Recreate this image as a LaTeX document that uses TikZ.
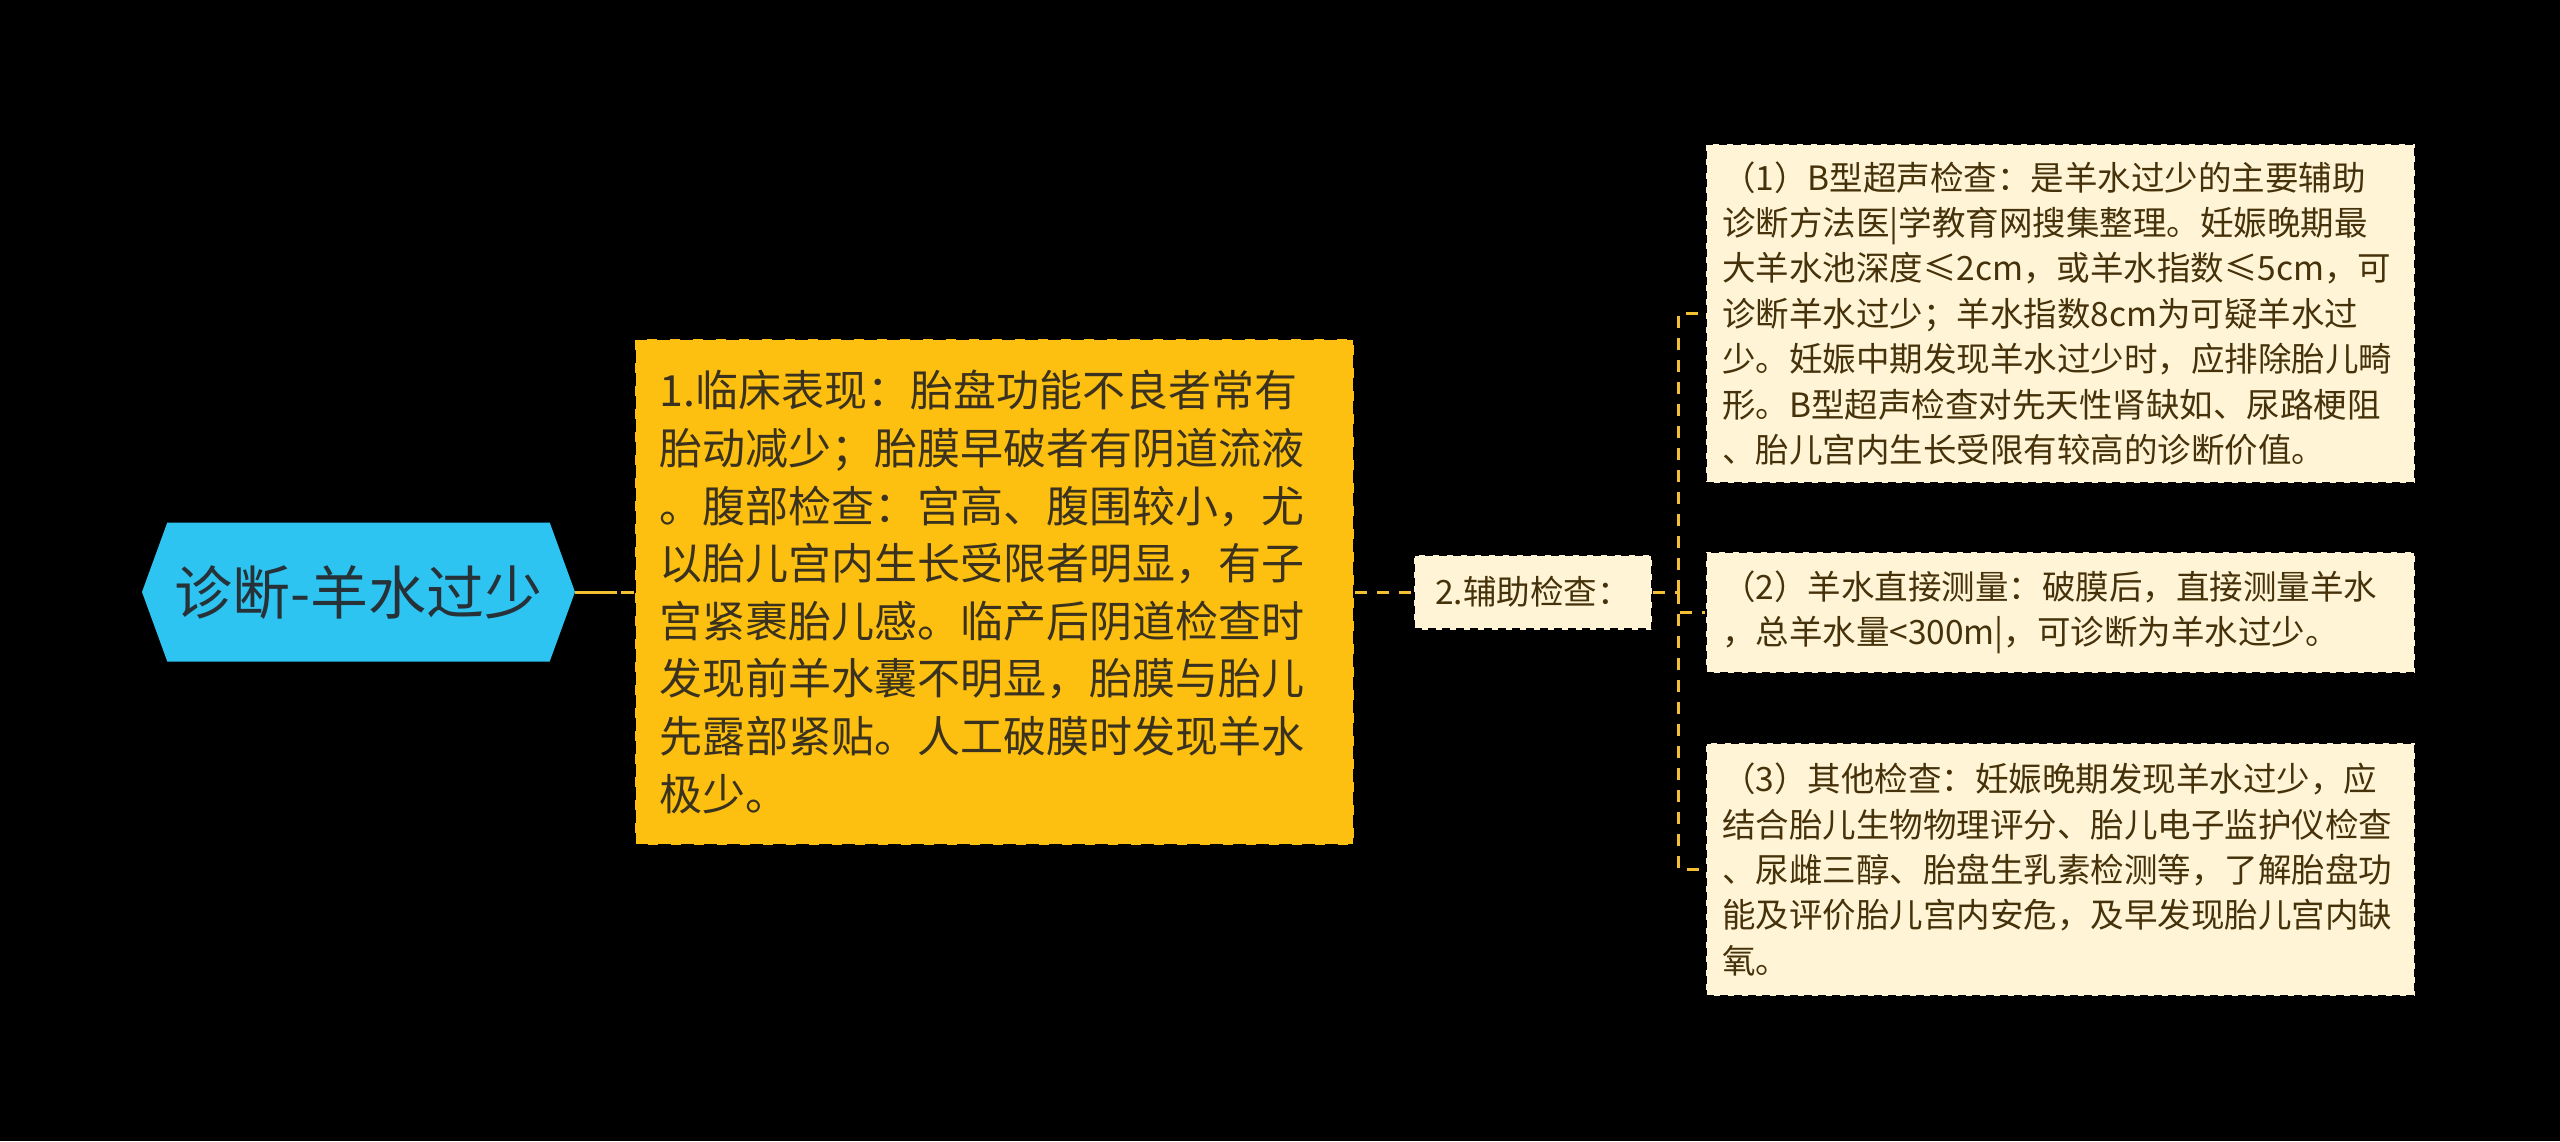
\documentclass[tikz,border=0pt]{standalone}
\usepackage{fontspec}
\setmainfont{Noto Sans CJK SC}
\usetikzlibrary{shapes.symbols}
\definecolor{rootblue}{RGB}{46,196,242}
\definecolor{rootink}{RGB}{38,50,56}
\definecolor{clingold}{RGB}{253,192,16}
\definecolor{clinink}{RGB}{58,50,30}
\definecolor{auxcream}{RGB}{255,245,214}
\definecolor{auxink}{RGB}{70,50,10}
\definecolor{linkgold}{RGB}{242,192,50}

\begin{document}
\begin{tikzpicture}[x=0.5pt, y=-0.5pt, line join=round,
		rootbox/.style={signal, signal to=west and east, signal pointer angle=140, fill=rootblue, text=rootink, font=\fontsize{29}{34}\selectfont, minimum width=216.5pt, minimum height=69.5pt, inner sep=0pt},
		clinbox/.style={draw=black, dash pattern=on 6.5pt off 5pt, line width=1.2pt, fill=clingold, text=clinink, font=\fontsize{21.5}{28.8}\selectfont, align=left, text width=335pt, minimum width=359.5pt, minimum height=253pt, inner sep=0pt},
		auxbox/.style={draw=black, dash pattern=on 4pt off 3pt, line width=1.2pt, fill=auxcream, text=auxink, font=\fontsize{16.75}{22.7}\selectfont, align=left, inner sep=0pt},
		leafbox/.style={auxbox, text width=338.5pt, minimum width=354.5pt},
		link/.style={linkgold, line width=1.5pt, dash pattern=on 6pt off 5pt},
		rootlink/.style={linkgold, line width=1.5pt, dash pattern=on 21pt off 2pt}]
	\fill[black] (0,0) rectangle (2560,1141);
	\useasboundingbox (0,0) rectangle (2560,1141);
	\node[rootbox] (root) at (358.5,592) {诊断-羊水过少};
	\node[clinbox] (clin) at (994.5,592) {1.临床表现：胎盘功能不良者常有\\胎动减少；胎膜早破者有阴道流液\\。腹部检查：宫高、腹围较小，尤\\以胎儿宫内生长受限者明显，有子\\宫紧裹胎儿感。临产后阴道检查时\\发现前羊水囊不明显，胎膜与胎儿\\先露部紧贴。人工破膜时发现羊水\\极少。};
	\node[auxbox, align=center, minimum width=119pt, minimum height=37.5pt] (aux) at (1533,592) {2.辅助检查：};
	\node[leafbox, minimum height=169.5pt] (bscan) at (2060.5,313.5) {（1）B型超声检查：是羊水过少的主要辅助\\诊断方法医|学教育网搜集整理。妊娠晚期最\\大羊水池深度≤2cm，或羊水指数≤5cm，可\\诊断羊水过少；羊水指数8cm为可疑羊水过\\少。妊娠中期发现羊水过少时，应排除胎儿畸\\形。B型超声检查对先天性肾缺如、尿路梗阻\\、胎儿宫内生长受限有较高的诊断价值。};
	\node[leafbox, minimum height=60.5pt] (direct) at (2060.5,612.5) {（2）羊水直接测量：破膜后，直接测量羊水\\，总羊水量<300m|，可诊断为羊水过少。};
	\node[leafbox, minimum height=126.5pt] (other) at (2060.5,869.5) {（3）其他检查：妊娠晚期发现羊水过少，应\\结合胎儿生物物理评分、胎儿电子监护仪检查\\、尿雌三醇、胎盘生乳素检测等，了解胎盘功\\能及评价胎儿宫内安危，及早发现胎儿宫内缺\\氧。};
	\draw[rootlink] (root.east) -- (clin.west);
	\draw[link] (clin.east) -- (aux.west);
	\draw[link] (aux.east) -- ++(25,0) coordinate (fork);
	\draw[link] (fork) |- (bscan.west);
	\draw[link] (fork) |- (direct.west);
	\draw[link] (fork) |- (other.west);
\end{tikzpicture}
\end{document}
